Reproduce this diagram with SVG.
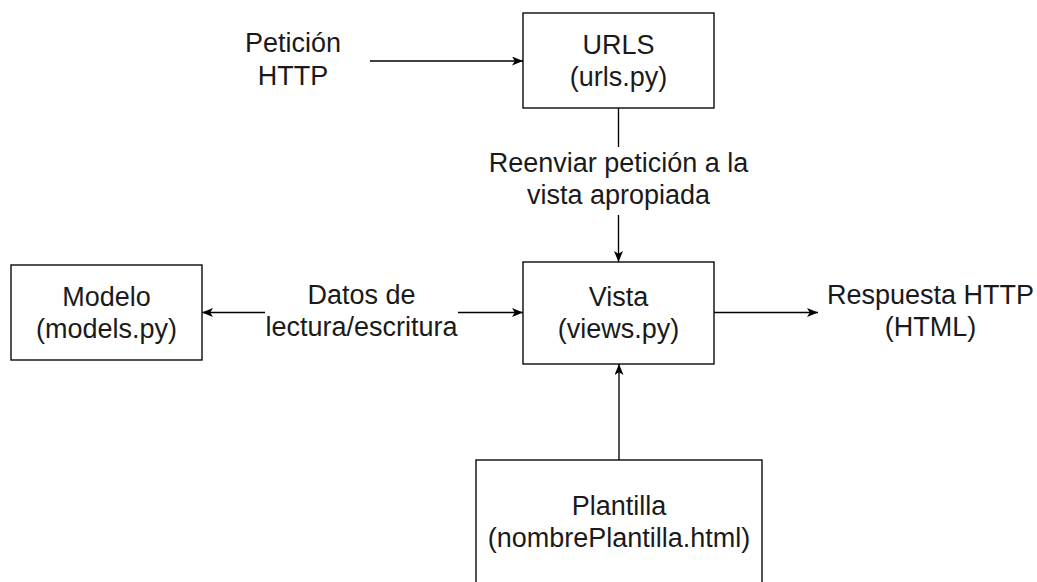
<svg xmlns="http://www.w3.org/2000/svg" width="1037" height="582" viewBox="0 0 1037 582">
  <defs>
    <marker id="arrow" markerUnits="userSpaceOnUse" markerWidth="12" markerHeight="10" refX="11" refY="4.5" orient="auto-start-reverse">
      <path d="M0,0 L11,4.5 L0,9 L2.8,4.5 Z" fill="#000"/>
    </marker>
  </defs>
  <style>
    .box { fill: #fff; stroke: #000; stroke-width: 1.35; }
    .edge { fill: none; stroke: #000; stroke-width: 1.35; }
    .t { font-family: "Liberation Sans", Arial, sans-serif; font-size: 27px; fill: #1a1a1a; text-anchor: middle; }
    .bg { fill: #fff; stroke: none; }
  </style>
  <rect width="1037" height="582" fill="#fff"/>

  <g id="connectors">
    <line class="edge" x1="370" y1="61" x2="523" y2="61" marker-end="url(#arrow)"/>
    <line class="edge" x1="618.5" y1="108" x2="618.5" y2="262" marker-end="url(#arrow)"/>
    <rect class="bg" x="486" y="147" width="265" height="68"/>
    <line class="edge" x1="202" y1="312.5" x2="523" y2="312.5" marker-start="url(#arrow)" marker-end="url(#arrow)"/>
    <rect class="bg" x="265" y="280" width="193" height="66"/>
    <line class="edge" x1="714" y1="312.5" x2="818" y2="312.5" marker-end="url(#arrow)"/>
    <line class="edge" x1="619" y1="460" x2="619" y2="364" marker-end="url(#arrow)"/>
  </g>

  <g id="label-peticion">
    <text class="t" x="293" y="52">Petición</text>
    <text class="t" x="293" y="85">HTTP</text>
  </g>
  <g id="label-reenviar">
    <text class="t" x="618.5" y="172">Reenviar petición a la</text>
    <text class="t" x="618.5" y="204">vista apropiada</text>
  </g>
  <g id="label-datos">
    <text class="t" x="361.5" y="304">Datos de</text>
    <text class="t" x="361.5" y="336">lectura/escritura</text>
  </g>
  <g id="label-respuesta">
    <text class="t" x="930.5" y="304">Respuesta HTTP</text>
    <text class="t" x="930.5" y="336">(HTML)</text>
  </g>

  <g id="node-urls">
    <rect class="box" x="523" y="13" width="191" height="95"/>
    <text class="t" x="618.5" y="53.5">URLS</text>
    <text class="t" x="618.5" y="86">(urls.py)</text>
  </g>
  <g id="node-modelo">
    <rect class="box" x="11" y="265" width="191" height="95"/>
    <text class="t" x="106.5" y="305.5">Modelo</text>
    <text class="t" x="106.5" y="338">(models.py)</text>
  </g>
  <g id="node-vista">
    <rect class="box" x="523" y="262" width="191" height="102"/>
    <text class="t" x="618.5" y="305.5">Vista</text>
    <text class="t" x="618.5" y="338">(views.py)</text>
  </g>
  <g id="node-plantilla">
    <rect class="box" x="476" y="460" width="286" height="125"/>
    <text class="t" x="619" y="514.5">Plantilla</text>
    <text class="t" x="619" y="547">(nombrePlantilla.html)</text>
  </g>
</svg>
